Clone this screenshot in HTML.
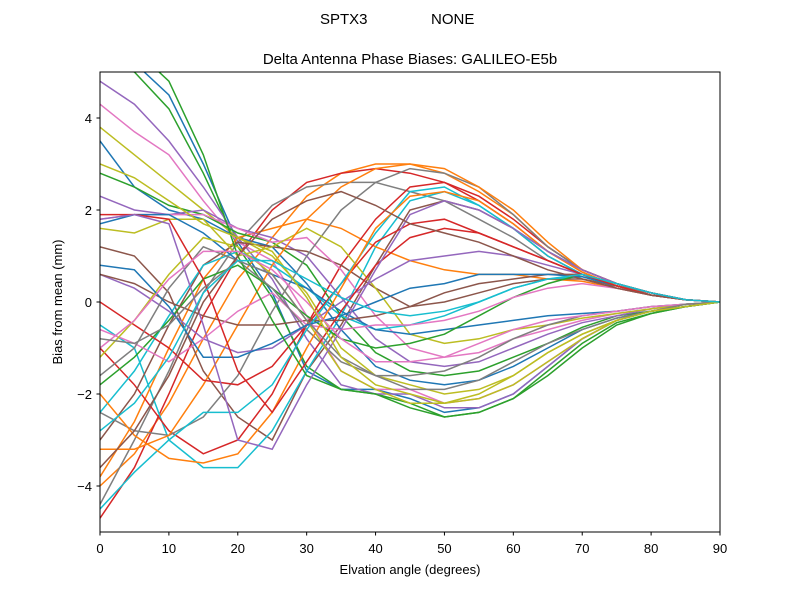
<!DOCTYPE html>
<html><head><meta charset="utf-8"><style>
body{margin:0;background:#fff;font-family:"Liberation Sans","DejaVu Sans",sans-serif}
svg text{font-family:"Liberation Sans","DejaVu Sans",sans-serif;fill:#000}
</style></head><body>
<svg id="c" width="800" height="600" viewBox="0 0 800 600">
<defs><clipPath id="clip"><rect x="100" y="72" width="620" height="460"/></clipPath></defs>
<rect width="800" height="600" fill="#fff"/>
<text x="320" y="24" font-size="15">SPTX3</text>
<text x="431" y="24" font-size="15">NONE</text>
<text x="410" y="64" font-size="15" text-anchor="middle">Delta Antenna Phase Biases: GALILEO-E5b</text>
<g id="lines" clip-path="url(#clip)"></g>
<rect x="100" y="72" width="620" height="460" fill="none" stroke="#000" stroke-width="1"/>
<g id="axes"></g>
<text x="410" y="574" font-size="13" text-anchor="middle">Elvation angle (degrees)</text>
<text transform="translate(62,302) rotate(-90)" font-size="13" text-anchor="middle">Bias from mean (mm)</text>
</svg>
<script>
const elevations=[0,5,10,15,20,25,30,35,40,45,50,55,60,65,70,75,80,85,90];
const xTicks=[0,10,20,30,40,50,60,70,80,90];
const yTicks=[-4,-2,0,2,4];
const s01=[5.5,5.2,4.5,3,1.3,0.2,-1.5,-1.9,-1.9,-2.1,-2.4,-2.3,-2.0,-1.4,-0.8,-0.4,-0.2,-0.1,0];
const s02=[5.2,5.0,4.2,2.8,1.2,0.1,-1.4,-1.9,-2.0,-2.2,-2.5,-2.4,-2.1,-1.5,-0.9,-0.45,-0.25,-0.1,0];
const s03=[4.8,4.3,3.5,2.5,1.4,0.5,-0.8,-1.8,-2.0,-2.0,-2.3,-2.3,-2.0,-1.4,-0.8,-0.4,-0.2,-0.1,0];
const s04=[4.3,3.7,3.2,2.2,1.3,0.9,-0.3,-1.5,-1.9,-1.9,-2.2,-2.1,-1.8,-1.3,-0.8,-0.4,-0.2,-0.1,0];
const s05=[3.8,3.2,2.6,2.0,1.4,1.0,0.2,-1.0,-1.6,-1.8,-2.0,-1.9,-1.6,-1.1,-0.7,-0.4,-0.2,-0.1,0];
const s06=[3.5,2.5,2.0,1.8,1.4,1.2,0.4,-0.6,-1.4,-1.7,-1.8,-1.7,-1.4,-1.0,-0.6,-0.35,-0.2,-0.1,0];
const s07=[2.8,2.5,2.1,1.9,1.5,1.3,0.8,-0.3,-1.1,-1.5,-1.6,-1.5,-1.2,-0.9,-0.55,-0.3,-0.2,-0.1,0];
const s08=[2.3,2.0,1.9,2.0,1.6,1.4,1.0,0.1,-0.8,-1.3,-1.4,-1.3,-1.0,-0.7,-0.45,-0.3,-0.15,-0.05,0];
const s09=[1.8,1.9,1.9,1.9,1.6,1.3,1.4,0.7,-0.3,-1.0,-1.2,-1.1,-0.8,-0.6,-0.4,-0.25,-0.15,-0.05,0];
const s10=[1.6,1.5,1.8,1.8,1.0,1.2,1.6,1.2,0.3,-0.7,-0.9,-0.8,-0.6,-0.5,-0.35,-0.25,-0.15,-0.05,0];
const s11=[1.7,1.9,1.9,1.5,0.9,0.6,0.3,-0.2,-0.6,-0.7,-0.6,-0.5,-0.4,-0.3,-0.25,-0.2,-0.1,-0.05,0];
const s12=[1.2,1.0,0.2,-1.5,-2.5,-3.0,-1.5,-0.5,0.8,2.0,2.2,2.0,1.6,1.0,0.6,0.3,0.15,0.05,0];
const s13=[-0.5,-1.0,-3.0,-3.6,-3.6,-2.8,-1.5,-0.3,1.2,2.2,2.4,2.1,1.6,1.1,0.7,0.4,0.2,0.05,0];
const s14=[-1.0,-1.8,-2.8,-3.3,-3.0,-2.0,-0.5,0.8,1.8,2.5,2.6,2.3,1.8,1.2,0.7,0.4,0.2,0.05,0];
const s15=[-2.4,-2.8,-2.9,-2.5,-1.6,-0.2,1.0,2.0,2.6,2.9,2.8,2.5,1.9,1.2,0.7,0.4,0.2,0.05,0];
const s16=[-3.2,-3.2,-2.9,-1.8,-0.5,0.8,1.8,2.5,2.9,3.0,2.9,2.5,2.0,1.3,0.7,0.4,0.2,0.05,0];
const s17=[-4.0,-3.3,-2.2,-0.8,0.5,1.4,2.3,2.8,3.0,3.0,2.8,2.4,1.9,1.2,0.7,0.4,0.2,0.05,0];
const s18=[-4.7,-3.6,-2.0,-0.3,1.0,2.0,2.6,2.8,2.9,2.8,2.6,2.2,1.7,1.1,0.65,0.35,0.2,0.05,0];
const s19=[-4.4,-3.0,-1.5,0.2,1.3,2.1,2.5,2.6,2.6,2.4,2.2,1.8,1.4,0.9,0.6,0.35,0.2,0.05,0];
const s20=[-3.8,-2.6,-1.0,0.5,1.4,1.6,1.8,1.6,1.2,0.9,0.7,0.6,0.6,0.5,0.45,0.3,0.15,0.05,0];
const s21=[-3.0,-2.0,-0.5,0.8,1.3,1.2,1.1,0.8,0.3,-0.1,0.0,0.2,0.4,0.5,0.5,0.35,0.15,0.05,0];
const s22=[-2.4,-1.5,-0.3,0.8,1.1,0.8,0.3,-0.3,-0.6,-0.5,-0.3,0.0,0.3,0.5,0.55,0.35,0.15,0.05,0];
const s23=[-1.8,-1.2,-0.4,0.5,0.8,0.3,-0.3,-0.8,-1.0,-0.9,-0.7,-0.3,0.1,0.4,0.6,0.4,0.2,0.05,0];
const s24=[0.0,-0.5,-1.0,-1.7,-1.8,-1.4,-0.5,0.4,1.3,1.7,1.8,1.5,1.2,0.9,0.6,0.35,0.15,0.05,0];
const s25=[0.6,0.3,-0.2,-0.8,-1.1,-1.0,-0.5,0.0,0.5,0.9,1.0,1.1,1.0,0.8,0.6,0.35,0.15,0.05,0];
const s26=[0.6,0.4,0.0,-0.3,-0.5,-0.5,-0.4,-0.4,-0.3,-0.1,0.2,0.4,0.5,0.6,0.6,0.4,0.2,0.05,0];
const s27=[-0.6,-0.9,-1.3,-0.8,-0.2,0.2,-0.5,-0.6,-0.5,-0.5,-0.4,-0.2,0.1,0.3,0.4,0.3,0.15,0.05,0];
const s28=[-1.6,-1.0,0.3,1.2,0.9,0.3,-0.6,-1.3,-1.6,-1.6,-1.5,-1.2,-0.8,-0.5,-0.3,-0.2,-0.1,-0.05,0];
const s29=[-1.2,-0.4,0.6,1.4,1.2,0.6,-0.4,-1.5,-1.9,-2.2,-2.2,-2.0,-1.6,-1.1,-0.7,-0.4,-0.2,-0.05,0];
const s30=[-4.5,-3.7,-3.0,-2.4,-2.4,-1.8,-0.6,0.4,1.5,2.4,2.5,2.1,1.6,1.0,0.6,0.35,0.15,0.05,0];
const s31=[0.8,0.7,-0.1,-1.2,-1.2,-0.9,-0.5,-0.3,0.0,0.3,0.4,0.6,0.6,0.6,0.55,0.35,0.15,0.05,0];
const s32=[-2.0,-2.9,-3.4,-3.5,-3.3,-2.4,-1.0,0.3,1.6,2.3,2.4,2.2,1.7,1.1,0.65,0.35,0.15,0.05,0];
const s33=[5.5,5.5,4.8,3.2,1.0,-0.4,-1.6,-1.9,-2.0,-2.3,-2.5,-2.4,-2.1,-1.6,-1.0,-0.5,-0.25,-0.1,0];
const s34=[1.9,1.9,1.8,0.5,-1.5,-2.4,-1.3,-0.2,0.8,1.4,1.6,1.5,1.2,0.9,0.6,0.35,0.15,0.05,0];
const s35=[1.8,1.9,1.7,-0.5,-3.0,-3.2,-1.8,-0.6,0.7,1.9,2.2,2.0,1.6,1.1,0.7,0.4,0.2,0.05,0];
const s36=[-3.6,-2.8,-1.6,0.0,1.0,1.8,2.2,2.4,2.1,1.7,1.5,1.3,1.0,0.7,0.5,0.3,0.15,0.05,0];
const s37=[-1.0,-0.4,0.5,1.1,1.1,0.7,0.0,-0.8,-1.3,-1.3,-1.2,-0.9,-0.6,-0.4,-0.3,-0.2,-0.1,-0.05,0];
const s38=[-0.8,-0.9,-0.5,0.3,0.9,0.6,-0.4,-1.2,-1.6,-1.9,-1.9,-1.7,-1.3,-0.9,-0.6,-0.35,-0.2,-0.05,0];
const s39=[3.0,2.7,2.2,1.7,1.4,1.1,0.1,-1.2,-1.8,-2.0,-2.2,-2.1,-1.8,-1.3,-0.8,-0.4,-0.2,-0.1,0];
const s40=[-2.8,-2.2,-1.2,0.2,0.9,0.9,0.5,0.1,-0.2,-0.3,-0.2,0.0,0.3,0.5,0.6,0.4,0.2,0.05,0];
const series=[s01,s17,s02,s18,s03,s12,s04,s19,s05,s13,s06,s20,s07,s14,s08,s21,s09,s15,s10,s22,s11,s16,s23,s24,s25,s26,s27,s28,s29,s30,s31,s32,s33,s34,s35,s36,s37,s38,s39,s40];
const colors=["#1f77b4","#ff7f0e","#2ca02c","#d62728","#9467bd","#8c564b","#e377c2","#7f7f7f","#bcbd22","#17becf"];
const X=v=>100+v/90*620;
const Y=v=>302-v*46;
const NS="http://www.w3.org/2000/svg";
const lg=document.getElementById('lines');
series.forEach((s,i)=>{
  const p=document.createElementNS(NS,'path');
  p.setAttribute('d',s.map((v,j)=>(j?'L':'M')+X(elevations[j]).toFixed(1)+' '+Y(v).toFixed(1)).join(' '));
  p.setAttribute('fill','none');
  p.setAttribute('stroke',colors[i%10]);
  p.setAttribute('stroke-width','1.5');
  
  
  lg.appendChild(p);
});
const ax=document.getElementById('axes');
xTicks.forEach(t=>{
  const l=document.createElementNS(NS,'line');
  l.setAttribute('x1',X(t));l.setAttribute('x2',X(t));l.setAttribute('y1',532);l.setAttribute('y2',535.5);l.setAttribute('stroke','#000');
  
  
  ax.appendChild(l);
  const tx=document.createElementNS(NS,'text');
  tx.setAttribute('x',X(t));tx.setAttribute('y',553);tx.setAttribute('font-size','13');tx.setAttribute('text-anchor','middle');
  tx.textContent=t;
  
  
  ax.appendChild(tx);
});
yTicks.forEach(t=>{
  const l=document.createElementNS(NS,'line');
  l.setAttribute('x1',96.5);l.setAttribute('x2',100);l.setAttribute('y1',Y(t));l.setAttribute('y2',Y(t));l.setAttribute('stroke','#000');
  
  
  ax.appendChild(l);
  const tx=document.createElementNS(NS,'text');
  tx.setAttribute('x',92);tx.setAttribute('y',Y(t)+5);tx.setAttribute('font-size','13');tx.setAttribute('text-anchor','end');
  tx.textContent=t<0?'\u2212'+(-t):t;
  
  
  ax.appendChild(tx);
});
</script>
</body></html>
